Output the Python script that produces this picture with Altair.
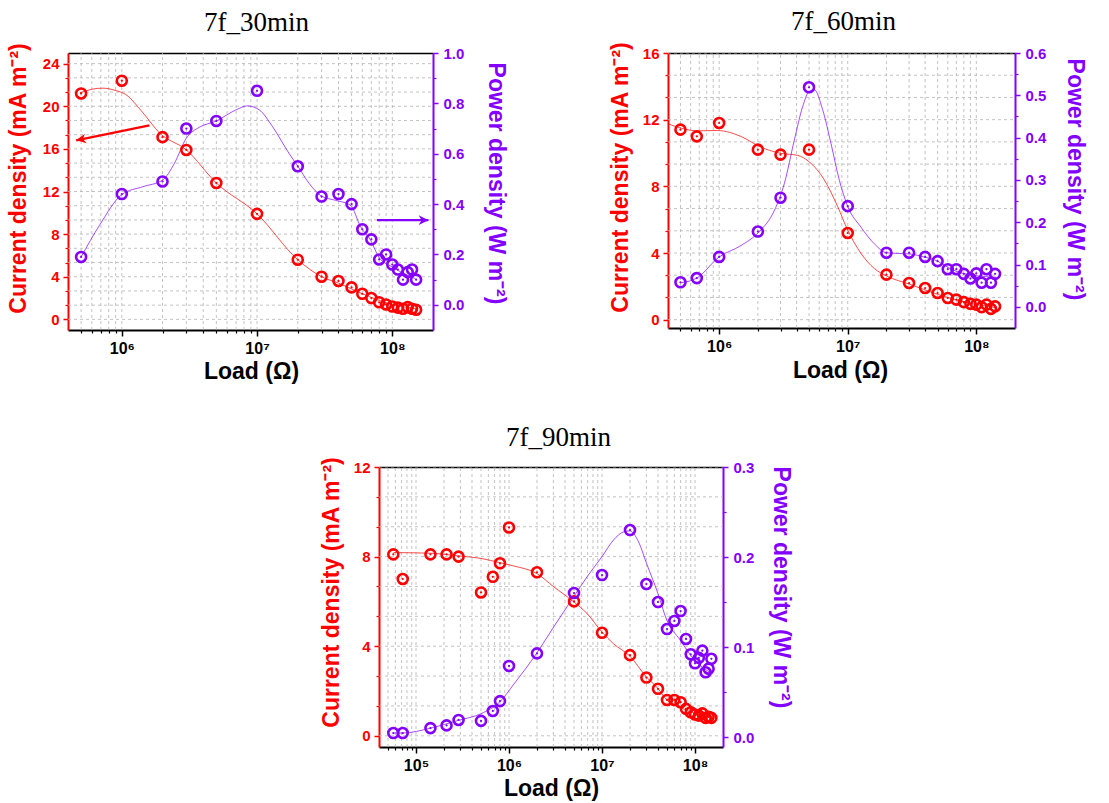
import altair as alt
import pandas as pd

# ---------------- data ----------------
# 7f_30min
load_30 = [5e5, 1e6, 2e6, 3e6, 5e6, 1e7, 2e7, 3e7, 4e7, 5e7, 6e7, 7e7, 8e7, 9e7, 1e8, 1.1e8, 1.2e8, 1.3e8, 1.4e8, 1.5e8]
current_30 = [21.2, 22.4, 17.1, 15.9, 12.8, 9.9, 5.6, 4.0, 3.6, 3.0, 2.4, 2.0, 1.6, 1.4, 1.2, 1.1, 1.0, 1.15, 1.0, 0.9]
power_30 = [0.19, 0.44, 0.49, 0.70, 0.73, 0.85, 0.55, 0.43, 0.44, 0.40, 0.30, 0.26, 0.18, 0.20, 0.16, 0.14, 0.10, 0.13, 0.14, 0.10]
fitc_load_30 = [4.9e5, 6.0e5, 7.2e5, 8.9e5, 1.07e6, 1.43e6, 1.9e6, 3.0e6, 5.0e6, 1e7, 2e7, 3e7, 4e7, 6e7, 1e8, 1.5e8]
fitc_30 = [21.25, 21.6, 21.7, 21.5, 21.1, 19.4, 17.5, 15.9, 12.8, 9.9, 5.6, 4.0, 3.4, 2.4, 1.4, 1.0]
fitp_load_30 = [5.0e5, 6.84e5, 1e6, 1.43e6, 2e6, 2.45e6, 2.99e6, 3.74e6, 5.0e6, 6.98e6, 8.5e6, 1.04e7, 1.3e7,
                1.73e7, 2e7, 2.43e7, 2.99e7, 3.8e7, 4.9e7, 5.83e7, 6.92e7, 7.94e7, 1e8, 1.48e8]
fitp_30 = [0.19, 0.316, 0.438, 0.469, 0.495, 0.562, 0.661, 0.705, 0.73, 0.774, 0.79, 0.774, 0.708,
           0.60, 0.551, 0.482, 0.432, 0.415, 0.396, 0.31, 0.256, 0.19, 0.15, 0.104]
# arrows (start -> tip) in data units
arrow_red_30 = [1.6e6, 18.2, 4.6e5, 16.8]
arrow_purple_30 = [7.7e7, 0.336, 1.85e8, 0.336]

# 7f_60min
load_60 = [5e5, 6.7e5, 1e6, 2e6, 3e6, 5e6, 1e7, 2e7, 3e7, 4e7, 5e7, 6e7, 7e7, 8e7, 9e7, 1e8, 1.1e8, 1.2e8, 1.3e8, 1.4e8]
current_60 = [11.4, 11.0, 11.8, 10.2, 9.9, 10.2, 5.2, 2.7, 2.2, 1.9, 1.6, 1.3, 1.2, 1.05, 0.95, 0.9, 0.75, 0.9, 0.65, 0.8]
power_60 = [0.058, 0.068, 0.118, 0.178, 0.258, 0.519, 0.238, 0.128, 0.128, 0.118, 0.108, 0.089, 0.089, 0.078,
            0.067, 0.079, 0.057, 0.089, 0.057, 0.078]
fitc_load_60 = [4.07e5, 5.08e5, 6.7e5, 9.7e5, 1.48e6, 2.11e6, 3.02e6, 4.07e6, 5.0e6, 6.58e6, 8.36e6, 1e7, 1.27e7,
                1.61e7, 2.02e7, 3.02e7, 5.0e7, 8.1e7, 1.43e8]
fitc_60 = [11.73, 11.49, 11.33, 11.35, 10.99, 10.35, 9.98, 9.86, 9.48, 8.38, 6.78, 5.37, 3.97, 3.07, 2.61, 2.13,
           1.52, 1.06, 0.72]
fitp_load_60 = [5.08e5, 6.7e5, 1e6, 1.48e6, 2.04e6, 2.69e6, 3.21e6, 3.84e6, 4.46e6, 5.0e6, 5.5e6, 6.38e6, 7.41e6,
                8.61e6, 1e7, 1.27e7, 1.61e7, 2.02e7, 3.02e7, 4.03e7, 5e7, 6.03e7, 8.13e7, 1.43e8]
fitp_60 = [0.057, 0.068, 0.118, 0.145, 0.177, 0.228, 0.291, 0.394, 0.473, 0.509, 0.513, 0.466, 0.386, 0.299,
           0.2375, 0.188, 0.149, 0.1275, 0.125, 0.117, 0.108, 0.093, 0.078, 0.07]

# 7f_90min
load_90 = [5.7e4, 7.2e4, 1.43e5, 2.13e5, 2.87e5, 5e5, 6.7e5, 8e5, 1e6, 2e6, 5e6, 1e7, 2e7, 3e7, 4e7, 5e7, 6e7, 7e7,
           8e7, 9e7, 1e8, 1.1e8, 1.2e8, 1.3e8, 1.4e8, 1.5e8]
current_90 = [8.1, 7.0, 8.1, 8.1, 8.0, 6.4, 7.1, 7.7, 9.3, 7.3, 6.0, 4.6, 3.6, 2.6, 2.1, 1.6, 1.6, 1.5, 1.2, 1.05,
              0.95, 0.9, 1.0, 0.8, 0.85, 0.8]
power_90 = [0.0045, 0.0045, 0.010, 0.013, 0.019, 0.018, 0.029, 0.040, 0.079, 0.093, 0.16, 0.18, 0.23, 0.17, 0.15,
            0.12, 0.129, 0.14, 0.109, 0.092, 0.082, 0.088, 0.096, 0.072, 0.076, 0.087]
fitc_load_90 = [5.71e4, 1.44e5, 2.86e5, 5.0e5, 7.94e5, 1.13e6, 1.98e6, 3.03e6, 4.97e6, 6.9e6, 1e7, 1.33e7, 1.98e7,
                3.01e7, 3.98e7, 4.97e7, 6.9e7, 1e8, 1.53e8]
fitc_90 = [8.18, 8.15, 8.03, 7.92, 7.73, 7.58, 7.25, 6.65, 5.98, 5.46, 4.63, 4.11, 3.57, 2.62, 2.12, 1.6, 1.27,
           1.0, 0.82]
fitp_load_90 = [5.71e4, 7.2e4, 1.44e5, 2.86e5, 5e5, 7.94e5, 1.13e6, 1.98e6, 3.03e6, 4.97e6, 6.9e6, 1e7, 1.33e7,
                1.71e7, 1.98e7, 2.47e7, 3.01e7, 3.98e7, 4.97e7, 6.9e7, 1e8, 1.53e8]
fitp_90 = [0.0045, 0.0045, 0.010, 0.0186, 0.026, 0.039, 0.059, 0.093, 0.1225, 0.156, 0.178, 0.2005, 0.219,
           0.228, 0.229, 0.217, 0.193, 0.16, 0.13, 0.108, 0.085, 0.0705]

# tick values
minor_mult = [2, 3, 4, 5, 6, 7, 8, 9]
decades = [1e4, 1e5, 1e6, 1e7, 1e8]

# ---------------- styling ----------------
W, H = 1109, 803
RED = "#ff0000"
PURPLE = "#8400ff"
SANS = "Liberation Sans"
SERIF = "Liberation Serif"
CUR_TITLE = "Current density (mA m\u207b\u00b2)"
POW_TITLE = "Power density (W m\u207b\u00b2)"
SUP = "['\u2070','\u00b9','\u00b2','\u00b3','\u2074','\u2075','\u2076','\u2077','\u2078','\u2079']"
XLABEL = "'10' + " + SUP + "[round(log(datum.value)/LN10)]"
TITLE_SIZE = 23

panels = [
    dict(name="7f_30min", load=load_30, cur=current_30, pw=power_30,
         fcx=fitc_load_30, fc=fitc_30, fpx=fitp_load_30, fp=fitp_30,
         xr=[68, 433], yr=[330, 53], xdom=[4e5, 2e8], cdom=[-1, 25], pdom=[-0.1, 1.0],
         xmaj=[1e6, 1e7, 1e8], cmaj=[0, 4, 8, 12, 16, 20, 24], pmaj=[0, 0.2, 0.4, 0.6, 0.8, 1.0], pstep=0.1,
         ltx=-38, lty=178, rtx=50, rty=183, ttx=256, tty=-23, btx=251, bty=48),
    dict(name="7f_60min", load=load_60, cur=current_60, pw=power_60,
         fcx=fitc_load_60, fc=fitc_60, fpx=fitp_load_60, fp=fitp_60,
         xr=[668, 1015], yr=[328, 53], xdom=[4e5, 2e8], cdom=[-0.5, 16], pdom=[-0.05, 0.6],
         xmaj=[1e6, 1e7, 1e8], cmaj=[0, 4, 8, 12, 16], pmaj=[0, 0.1, 0.2, 0.3, 0.4, 0.5, 0.6], pstep=0.05,
         ltx=-36, lty=177, rtx=47, rty=179, ttx=843, tty=-24, btx=840, bty=49),
    dict(name="7f_90min", load=load_90, cur=current_90, pw=power_90,
         fcx=fitc_load_90, fc=fitc_90, fpx=fitp_load_90, fp=fitp_90,
         xr=[379, 723], yr=[747, 467], xdom=[4e4, 2e8], cdom=[-0.5, 12], pdom=[-0.011, 0.3],
         xmaj=[1e5, 1e6, 1e7, 1e8], cmaj=[0, 4, 8, 12], pmaj=[0, 0.1, 0.2, 0.3], pstep=0.05,
         ltx=-36, lty=592, rtx=45, rty=587, ttx=558, tty=-22, btx=551, bty=48),
]


def xs(p):
    return alt.Scale(type="log", domain=p["xdom"], range=p["xr"], nice=False)


def ycs(p):
    return alt.Scale(domain=p["cdom"], range=p["yr"], nice=False, zero=False)


def yps(p):
    return alt.Scale(domain=p["pdom"], range=p["yr"], nice=False, zero=False)


def build(p):
    layers = []
    lo, hi = p["xdom"]
    xgrid = [m * d for d in decades for m in [1] + minor_mult if lo < m * d < hi]
    xminor = [v for v in xgrid if v not in p["xmaj"]]
    cmax = p["cmaj"][-1]
    hgrid = [k * 4 / 3 for k in range(int(round(cmax * 3 / 4)) + 1)]
    cminor = [v for i, v in enumerate(hgrid) if i % 3 != 0]
    pminor = [round(v + p["pstep"], 4) for v in p["pmaj"][:-1]]

    df_pts = pd.DataFrame({"load": p["load"], "cur": p["cur"], "pw": p["pw"]})
    df_fc = pd.DataFrame({"load": p["fcx"], "cur": p["fc"]})
    df_fp = pd.DataFrame({"load": p["fpx"], "pw": p["fp"]})

    grid_style = dict(color="#b4b4b4", strokeWidth=0.8, strokeDash=[3, 3])

    # vertical grid
    layers.append(alt.Chart(pd.DataFrame({"g": xgrid})).mark_rule(**grid_style).encode(
        x=alt.X("g:Q", scale=xs(p), axis=None),
        y=alt.Y(datum=p["cdom"][0], type="quantitative", scale=ycs(p), axis=None),
        y2=alt.Y2(datum=p["cdom"][1]),
    ))
    # horizontal grid
    layers.append(alt.Chart(pd.DataFrame({"g": hgrid})).mark_rule(**grid_style).encode(
        y=alt.Y("g:Q", scale=ycs(p), axis=None),
        x=alt.X(datum=lo, type="quantitative", scale=xs(p), axis=None),
        x2=alt.X2(datum=hi),
    ))

    # fitted current curve + minor ticks for bottom / left axes
    layers.append(alt.Chart(df_fc).mark_line(color=RED, strokeWidth=1, opacity=0.7, interpolate="monotone").encode(
        x=alt.X("load:Q", scale=xs(p), axis=alt.Axis(
            orient="bottom", offset=p["yr"][0] - H, values=xminor, labels=False, domain=False,
            ticks=True, tickSize=3, tickWidth=1.2, tickColor="black", title=None, grid=False)),
        y=alt.Y("cur:Q", scale=ycs(p), axis=alt.Axis(
            orient="left", offset=-p["xr"][0], values=cminor, labels=False, domain=False,
            ticks=True, tickSize=3, tickWidth=1.2, tickColor=RED, title=None, grid=False)),
    ))
    # fitted power curve + minor ticks for right axis
    layers.append(alt.Chart(df_fp).mark_line(color=PURPLE, strokeWidth=1, opacity=0.7, interpolate="monotone").encode(
        x=alt.X("load:Q", scale=xs(p), axis=None),
        y=alt.Y("pw:Q", scale=yps(p), axis=alt.Axis(
            orient="right", offset=p["xr"][1] - W, values=pminor, labels=False, domain=False,
            ticks=True, tickSize=3, tickWidth=1.2, tickColor=PURPLE, title=None, grid=False)),
    ))

    # current scatter with main bottom and left axes
    layers.append(alt.Chart(df_pts).mark_point(shape="circle", filled=False, color=RED, size=100,
                                               strokeWidth=2.6, opacity=1).encode(
        x=alt.X("load:Q", scale=xs(p), axis=alt.Axis(
            orient="bottom", offset=p["yr"][0] - H, values=p["xmaj"], labelExpr=XLABEL,
            labelFont=SANS, labelFontWeight="bold", labelFontSize=16, labelColor="black", labelPadding=4,
            labelOverlap=False, labelFlush=False, tickSize=6, tickWidth=1.5, tickColor="black",
            domainColor="black", domainWidth=2, title="Load (\u03a9)", titleFont=SANS, titleFontWeight="bold",
            titleFontSize=TITLE_SIZE, titleColor="black", titleBaseline="alphabetic", titleX=p["btx"],
            titleY=p["bty"], grid=False)),
        y=alt.Y("cur:Q", scale=ycs(p), axis=alt.Axis(
            orient="left", offset=-p["xr"][0], values=p["cmaj"], format="d",
            labelFont=SANS, labelFontWeight="bold", labelFontSize=15, labelColor=RED, labelPadding=4,
            labelOverlap=False, tickSize=5, tickWidth=1.5, tickColor=RED, domainColor=RED, domainWidth=2,
            title=CUR_TITLE, titleFont=SANS, titleFontWeight="bold", titleFontSize=TITLE_SIZE, titleColor=RED,
            titleAngle=270, titleBaseline="bottom", titleX=p["ltx"], titleY=p["lty"], grid=False)),
    ))
    layers.append(alt.Chart(df_pts).mark_circle(color=RED, size=5, opacity=1).encode(
        x=alt.X("load:Q", scale=xs(p), axis=None),
        y=alt.Y("cur:Q", scale=ycs(p), axis=None),
    ))

    # power scatter with right axis and top frame (panel title)
    layers.append(alt.Chart(df_pts).mark_point(shape="circle", filled=False, color=PURPLE, size=100,
                                               strokeWidth=2.6, opacity=1).encode(
        x=alt.X("load:Q", scale=xs(p), axis=alt.Axis(
            orient="top", offset=-p["yr"][1], labels=False, ticks=False, domain=True, domainColor="black",
            domainWidth=1.5, title=p["name"], titleFont=SERIF, titleFontWeight="normal", titleFontSize=27,
            titleColor="black", titleBaseline="alphabetic", titleX=p["ttx"], titleY=p["tty"], grid=False)),
        y=alt.Y("pw:Q", scale=yps(p), axis=alt.Axis(
            orient="right", offset=p["xr"][1] - W, values=p["pmaj"], format=".1f",
            labelFont=SANS, labelFontWeight="bold", labelFontSize=15, labelColor=PURPLE, labelPadding=5,
            labelOverlap=False, tickSize=5, tickWidth=1.5, tickColor=PURPLE, domainColor=PURPLE, domainWidth=2,
            title=POW_TITLE, titleFont=SANS, titleFontWeight="bold", titleFontSize=TITLE_SIZE, titleColor=PURPLE,
            titleAngle=90, titleBaseline="bottom", titleX=p["rtx"], titleY=p["rty"], grid=False)),
    ))
    layers.append(alt.Chart(df_pts).mark_circle(color=PURPLE, size=5, opacity=1).encode(
        x=alt.X("load:Q", scale=xs(p), axis=None),
        y=alt.Y("pw:Q", scale=yps(p), axis=None),
    ))
    return layers


def arrow_layers(p, arrow, color, yscale, angle):
    df = pd.DataFrame({"x1": [arrow[0]], "y1": [arrow[1]], "x2": [arrow[2]], "y2": [arrow[3]]})
    shaft = alt.Chart(df).mark_rule(color=color, strokeWidth=2.2).encode(
        x=alt.X("x1:Q", scale=xs(p), axis=None), x2="x2:Q",
        y=alt.Y("y1:Q", scale=yscale, axis=None), y2="y2:Q",
    )
    head = alt.Chart(df).mark_point(shape="M0,0L-1,-0.5L-0.7,0L-1,0.5Z", filled=True, color=color,
                                    size=380, angle=angle, opacity=1).encode(
        x=alt.X("x2:Q", scale=xs(p), axis=None),
        y=alt.Y("y2:Q", scale=yscale, axis=None),
    )
    return [shaft, head]


all_layers = []
for p in panels:
    all_layers += build(p)
p0 = panels[0]
all_layers += arrow_layers(p0, arrow_red_30, RED, ycs(p0), 169)
all_layers += arrow_layers(p0, arrow_purple_30, PURPLE, yps(p0), 0)

chart = alt.layer(*all_layers).resolve_scale(x="independent", y="independent").properties(
    width=W, height=H, autosize=alt.AutoSizeParams(type="none"), padding=0, background="white"
).configure_view(stroke="transparent").configure_axis(grid=False)

chart.save("out.html", embed_options={"renderer": "svg", "actions": False})
